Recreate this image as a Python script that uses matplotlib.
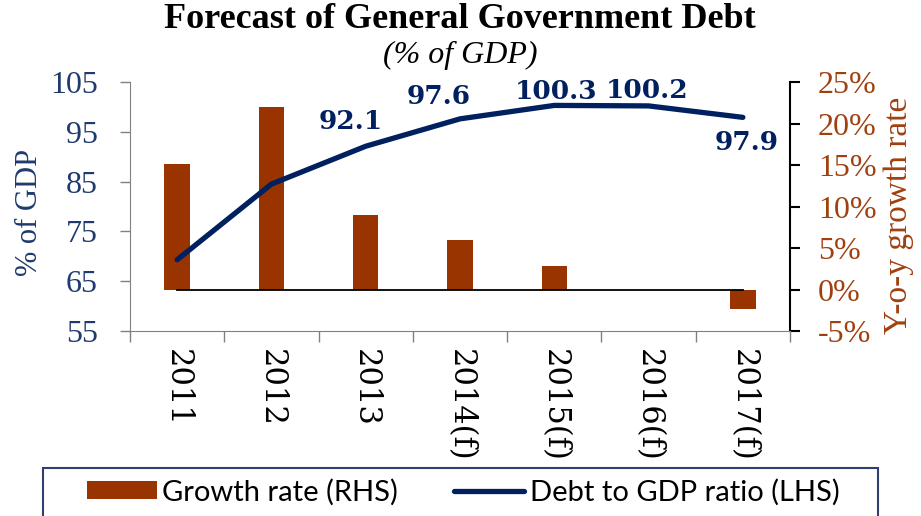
import matplotlib.pyplot as plt
import matplotlib.patches as mpatches
from matplotlib.ticker import FuncFormatter, FixedLocator

years = ['2011', '2012', '2013', '2014(f)', '2015(f)', '2016(f)', '2017(f)']
debt = [69.3, 84.5, 92.1, 97.6, 100.3, 100.2, 97.9]
growth = [15.1, 22.0, 9.0, 6.0, 2.8, -0.1, -2.3]
labelled = [2, 3, 4, 5, 6]
label_offsets = [(-15, 25), (-21, 22), (2, 14), (-2, 15), (4, -25)]

navy = '#002060'
tick_navy = '#1F3A6E'
brown = '#993300'
brown_txt = '#A04010'
serif = 'Liberation Serif'

fig = plt.figure(figsize=(9.21, 5.16), dpi=100)
ax = fig.add_axes([130 / 921, 1 - 331 / 516, 660 / 921, 249 / 516])
ax2 = ax.twinx()
x = list(range(len(years)))

# growth bars on the right axis
ax2.bar(x, growth, width=0.27, color=brown, zorder=2, label='Growth rate (RHS)')
ax2.plot([x[0], x[-1]], [0, 0], color='black', lw=1.3, zorder=3)
ax2.set_ylim(-5, 25)
ax2.set_yticks(range(-5, 26, 5))
ax2.yaxis.set_major_formatter(FuncFormatter(lambda v, p: f'{v:.0f}%'))
ax2.tick_params(axis='y', direction='out', length=7, width=1.5, colors='black',
                labelcolor=brown_txt, labelsize=23, pad=13)
for t in ax2.get_yticklabels():
    t.set_fontfamily(serif)
ax2.set_ylabel('Y-o-y growth rate', color=brown_txt, fontsize=24, family=serif)
ax2.yaxis.set_label_coords(1.142, 0.466)

# debt line on the left axis
ax.set_zorder(ax2.get_zorder() + 1)
ax.patch.set_visible(False)
ax.plot(x, debt, color=navy, lw=3.8, solid_capstyle='round', label='Debt to GDP ratio (LHS)')
for i, (dx, dy) in zip(labelled, label_offsets):
    ax.annotate(f'{debt[i]:.1f}', (x[i], debt[i]), xytext=(dx, dy), textcoords='offset pixels',
                ha='center', va='center', fontsize=19, fontweight='bold', color=navy,
                family='DejaVu Serif')
ax.set_ylim(55, 105)
ax.set_yticks(range(55, 106, 10))
ax.set_xlim(-0.5, 6.5)
ax.tick_params(axis='y', direction='out', length=7, width=1, colors='#808080',
               labelcolor=tick_navy, labelsize=23, pad=16)
for t in ax.get_yticklabels():
    t.set_fontfamily(serif)
ax.set_ylabel('% of GDP', color=tick_navy, fontsize=22, family=serif)
ax.yaxis.set_label_coords(-0.13, 0.478)

ax.xaxis.set_major_locator(FixedLocator(x))
ax.set_xticklabels(years, rotation=-90, fontsize=22, family='DejaVu Serif', va='top')
ax.xaxis.set_minor_locator(FixedLocator([i - 0.5 for i in range(len(years) + 1)]))
ax.tick_params(axis='x', which='major', length=0, pad=13)
ax.tick_params(axis='x', which='minor', length=8, width=1, color='#808080')

for a in (ax, ax2):
    a.spines['top'].set_visible(False)
ax.spines['left'].set_color('#808080')
ax.spines['bottom'].set_color('#808080')
ax.spines['right'].set_visible(False)
ax2.spines['left'].set_visible(False)
ax2.spines['bottom'].set_visible(False)
ax2.spines['right'].set_color('black')
ax2.spines['right'].set_linewidth(1.5)

fig.text(460 / 921, 1 - 19 / 516, 'Forecast of General Government Debt', ha='center', va='center',
         fontsize=26, fontweight='bold', family=serif)
fig.text(460 / 921, 1 - 55 / 516, '(% of GDP)', ha='center', va='center',
         fontsize=23, style='italic', family=serif)

# legend with an outer frame running off the bottom edge
h1, l1 = ax2.get_legend_handles_labels()
h2, l2 = ax.get_legend_handles_labels()
fig.legend(h1 + h2, l1 + l2, loc='center', bbox_to_anchor=(463 / 921, 1 - 492 / 516), ncol=2,
           frameon=False, handlelength=2.4, handleheight=0.55, handletextpad=0.2, columnspacing=1.9,
           prop={'family': 'Lato', 'size': 21})
fig.patches.append(mpatches.Rectangle((43 / 921, -0.05), (878 - 43) / 921, 0.05 + 48 / 516,
                                      transform=fig.transFigure, fill=False, edgecolor='#2F3F6F', lw=1.5))

fig.savefig('out.png', dpi=100)
